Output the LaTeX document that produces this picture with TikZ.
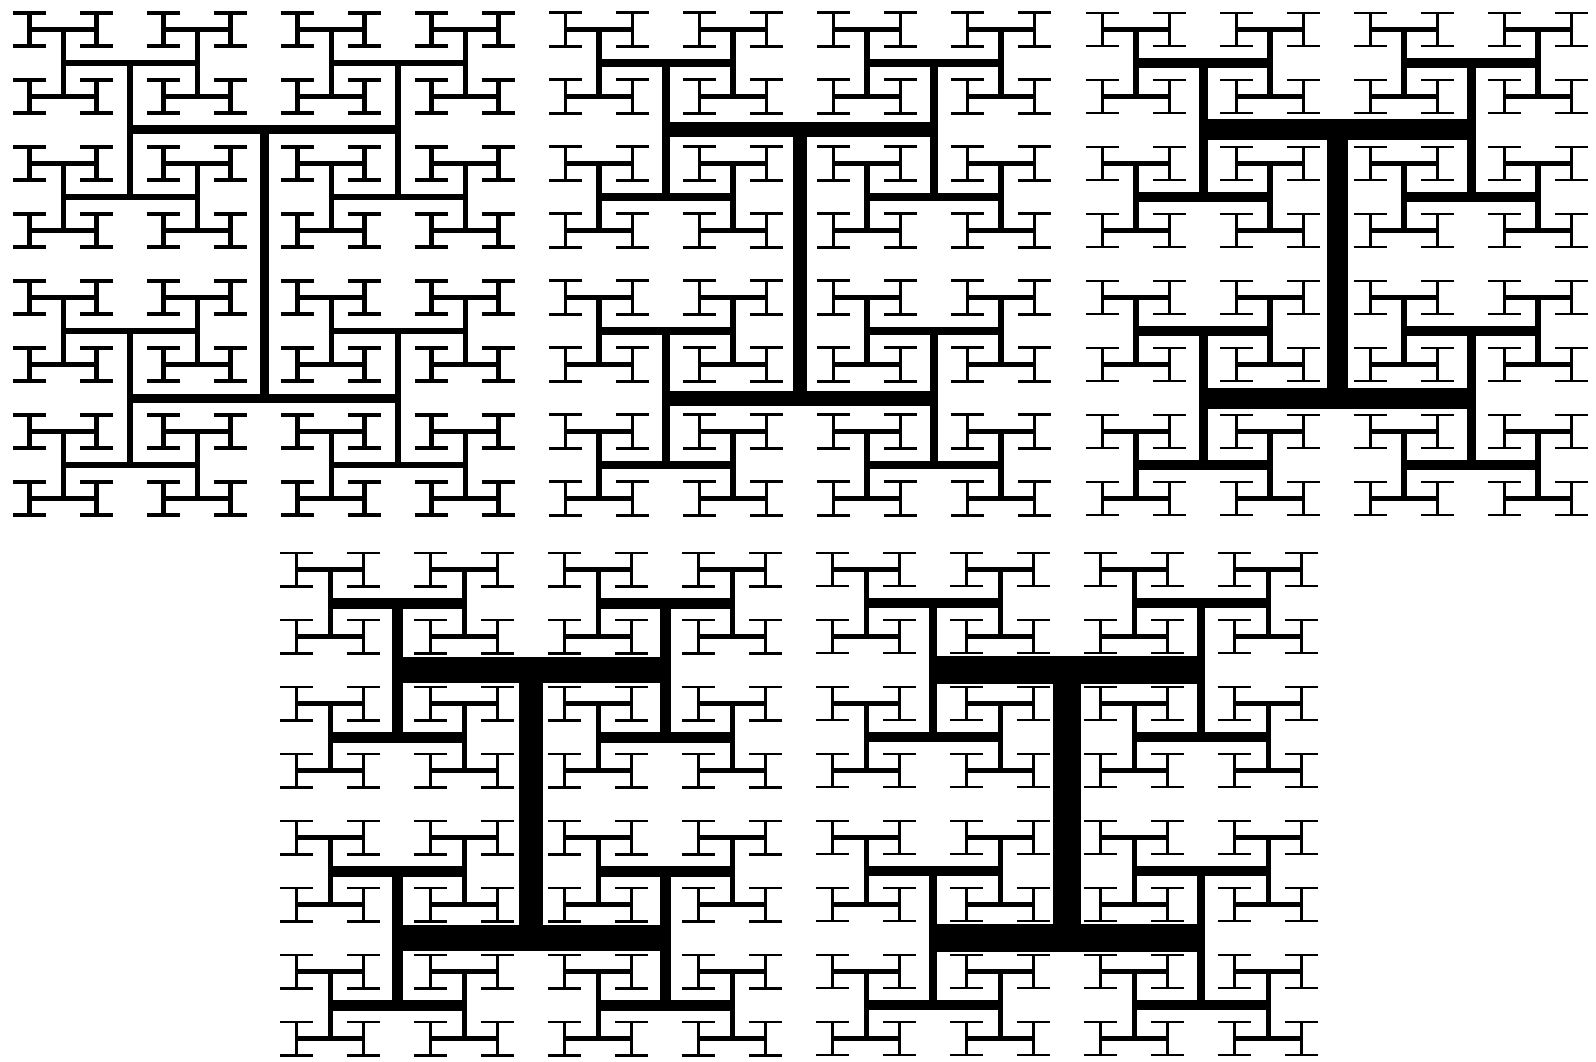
\documentclass[tikz,border=0pt]{standalone}
\usepackage{tikz}
\definecolor{cInk}{HTML}{000000}
\tikzset{
  hbar/.style={draw=cInk, line cap=butt},
  sheet/.style={fill=white, draw=none}
}
% one H-tree: centre x, centre y, size, widths of the 8 levels
\newcommand{\HTree}[4]{%
  \foreach \p in {0,...,3}{
    \pgfmathtruncatemacro{\n}{2^\p}
    \pgfmathtruncatemacro{\m}{\n-1}
    \pgfmathsetmacro{\hs}{#3/\n}
    \pgfmathsetmacro{\wv}{{#4}[2*\p]}
    \pgfmathsetmacro{\wh}{{#4}[2*\p+1]}
    \foreach \i in {0,...,\m}{
      \foreach \j in {0,...,\m}{
        \pgfmathsetmacro{\cx}{#1+(2*\i+1-\n)*\hs}
        \pgfmathsetmacro{\cy}{#2+(2*\j+1-\n)*\hs}
        \draw[hbar, line width=\wv pt] (\cx,\cy-\hs/2) -- (\cx,\cy+\hs/2);
        \draw[hbar, line width=\wh pt] (\cx-\hs/2,\cy-\hs/2) -- (\cx+\hs/2,\cy-\hs/2);
        \draw[hbar, line width=\wh pt] (\cx-\hs/2,\cy+\hs/2) -- (\cx+\hs/2,\cy+\hs/2);
      }
    }
  }%
}

\begin{document}
\begin{tikzpicture}[x=1pt, y=-1pt]
\path[sheet] (0,0) rectangle (1596,1062);
% top row
\HTree{264}{264}{268}{9,9,6.5,6.5,5,5,4.5,4.3}
\HTree{800}{264}{268}{14,15,7.5,8,5.2,5,3.8,3.4}
\HTree{1337}{264}{268}{21,21,9,10.5,5.5,5,3,2.3}
% bottom row
\HTree{531}{804}{268}{24,26,11,11,5,5,3,2.5}
\HTree{1067}{804}{268}{28,28,8.5,10,5,4.2,2.4,1.6}
\end{tikzpicture}
\end{document}
